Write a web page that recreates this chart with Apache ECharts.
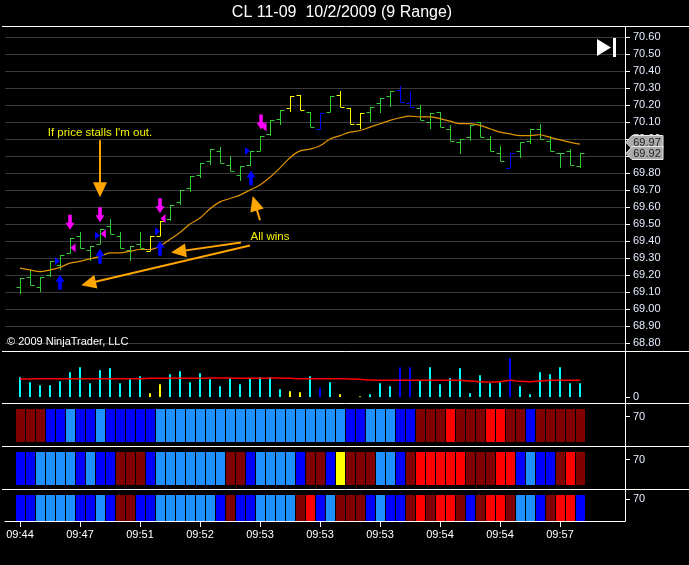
<!DOCTYPE html>
<html>
<head>
<meta charset="utf-8">
<title>CL 11-09 10/2/2009 (9 Range)</title>
<script src="https://cdn.jsdelivr.net/npm/echarts@6/dist/echarts.min.js"></script>
<style>
html, body { margin: 0; padding: 0; background: #000; }
#chart { width: 689px; height: 565px; }
</style>
</head>
<body>
<div id="chart"></div>
<script>
// 9-tick range bars
var opens  = [69.13,69.19,69.13,69.20,69.26,69.33,69.43,69.35,69.38,69.49,
              69.43,69.35,69.38,69.34,69.43,69.53,69.63,69.71,69.79,69.87,
              69.93,69.85,69.79,69.85,69.93,70.03,70.12,70.18,70.26,70.16,
              70.06,70.16,70.26,70.18,70.09,70.16,70.21,70.25,70.29,70.21,
              70.18,70.10,70.16,70.06,69.98,70.01,70.10,70.00,69.92,69.83,
              69.93,69.99,70.06,69.99,69.92,69.93,69.84];
var highs  = [69.18,69.23,69.19,69.28,69.32,69.42,69.45,69.37,69.47,69.53,
              69.45,69.37,69.45,69.43,69.52,69.61,69.70,69.78,69.86,69.94,
              69.95,69.90,69.84,69.93,70.02,70.11,70.17,70.25,70.26,70.16,
              70.15,70.25,70.28,70.18,70.15,70.19,70.24,70.28,70.31,70.28,
              70.20,70.15,70.16,70.08,70.00,70.08,70.10,70.02,69.96,69.92,
              69.98,70.06,70.09,70.02,69.92,69.94,69.92];
var lows   = [69.09,69.14,69.10,69.19,69.23,69.33,69.36,69.28,69.38,69.44,
              69.36,69.28,69.36,69.34,69.43,69.52,69.61,69.69,69.77,69.85,
              69.86,69.81,69.75,69.84,69.93,70.02,70.08,70.16,70.17,70.07,
              70.06,70.16,70.19,70.09,70.06,70.10,70.15,70.19,70.22,70.19,
              70.11,70.06,70.07,69.99,69.91,69.99,70.01,69.93,69.87,69.83,
              69.89,69.97,70.00,69.93,69.83,69.85,69.83];
var closes = [69.18,69.14,69.19,69.28,69.32,69.42,69.36,69.37,69.47,69.44,
              69.36,69.37,69.36,69.43,69.52,69.61,69.70,69.78,69.86,69.94,
              69.86,69.81,69.84,69.93,70.02,70.11,70.17,70.25,70.17,70.07,
              70.15,70.25,70.19,70.09,70.15,70.19,70.24,70.28,70.22,70.19,
              70.11,70.15,70.07,69.99,70.00,70.08,70.01,69.93,69.87,69.92,
              69.98,70.06,70.00,69.93,69.92,69.85,69.92];
// g = green, y = yellow, b = blue
var barKind = ('ggggggggggggg' + 'yy' + 'gggggggggggg' + 'yy' + 'g' + 'b' + 'g' + 'yyy' +
               'ggg' + 'bb' + 'ggggggggg' + 'b' + 'ggggggg').split('');
var priceMa = [69.24,69.23,69.22,69.23,69.245,69.27,69.28,69.295,69.31,69.33,
               69.33,69.34,69.35,69.35,69.37,69.41,69.45,69.50,69.535,69.59,
               69.63,69.65,69.67,69.70,69.73,69.775,69.83,69.89,69.93,69.94,
               69.96,70.00,70.02,70.04,70.05,70.07,70.09,70.11,70.125,70.135,
               70.13,70.13,70.12,70.105,70.09,70.09,70.08,70.06,70.04,70.03,
               70.02,70.02,70.025,70.01,69.995,69.98,69.97];

var volume = [59,44,35,35,47,74,89,41,80,86,
              41,53,62,11,38,68,77,44,71,53,
              32,56,38,56,59,59,23,17,14,62,
              26,44,8,0,2,8,41,32,89,89,
              50,89,38,56,86,11,65,41,44,116,
              32,8,74,68,89,41,41];
var volumeMa = [54,54,55,55,55,55,55,55,55,55,
                55,55,55,56,56,56,56,56,56,57,
                57,57,56,56,56,57,57,56,55,55,
                55,55,55,54,53,51,50,50,50,50,
                50,50,50,50,50,48,46,45,46,50,
                47,46,48,50,50,50,50];

// d = dark red, r = red, b = blue, c = light blue, y = yellow
var heatRow1 = ('dddbbcbbcbbbbb' + 'ccccccccccccccccccc' + 'bbcccbb' + 'dddrdddrrddbddddd').split('');
var heatRow2 = ('bbccccbcbbdddb' + 'ccccccc' + 'ddb' + 'cccc' + 'bdd' + 'by' + 'ddd' + 'ccb' + 'd' +
                'rrrrr' + 'ddd' + 'rr' + 'bcbb' + 'drd').split('');
var heatRow3 = ('bbccccbbcbddbb' + 'cccccc' + 'bdbb' + 'cccc' + 'drbc' + 'dddbcbb' + 'drdrrdbdrrd' + 'ccbdrrb').split('');

var timeLabels = ['09:44','09:47','09:51','09:52','09:53','09:53','09:53','09:54','09:54','09:57'];
var timeTicks  = [0,6,12,18,24,30,36,42,48,54];

// trade markers [bar, price]
var sellArrows = [[5,69.51],[8,69.555],[14,69.607],[24.1,70.10]];
var buyArrows  = [[4,69.157],[8,69.31],[14,69.357],[23.1,69.77]];
var entryMarks = [[3.75,69.283],[7.75,69.433],[13.75,69.457],[22.75,69.93]];
var exitMarks  = [[5.3,69.36],[8.33,69.442],[14.3,69.532],[24.4,70.07]];

// hand drawn notes: [fromBar, fromPrice, toBar, toPrice] (to = centre of the head)
var noteArrows = [[8,69.992,8,69.704],[22.1,69.391,15.9,69.339],[23,69.374,6.9,69.151],[24,69.522,23.5,69.619]];
var noteTexts  = [["If price stalls I'm out.",8,70.039],['All wins',25,69.427]];

var lastPrices = [69.97, 69.92];

var kindColor = { g: '#32CD32', y: '#FFFF00', b: '#0000FF' };
var volColor = { g: '#00FFFF', y: '#FFFF00', b: '#0000FF' };
var heatColor = { d: '#800000', r: '#FF0000', b: '#0000FF', c: '#1E90FF', y: '#FFFF00' };
var FONT = '"Liberation Sans", Arial, sans-serif';

var chart = echarts.init(document.getElementById('chart'));

function xAx(idx, show) {
	var ax = {
		type: 'value', gridIndex: idx, min: -1.5, max: 60.5,
		show: !!show, splitLine: { show: false }
	};
	if (show) {
		ax.axisLine = { onZero: false, lineStyle: { color: '#fff', width: 1 } };
		ax.axisTick = { customValues: timeTicks, length: 6, lineStyle: { color: '#fff' } };
		ax.axisLabel = {
			customValues: timeTicks, color: '#fff', fontSize: 11, fontFamily: FONT, margin: 8,
			formatter: function (v) { return timeLabels[timeTicks.indexOf(v)]; }
		};
	}
	return ax;
}

function sideAx(idx, min, max, marks) {
	return {
		type: 'value', gridIndex: idx, position: 'right', min: min, max: max,
		axisLine: { show: true, onZero: false, lineStyle: { color: '#fff' } },
		axisTick: { show: true, customValues: marks, length: 5, lineStyle: { color: '#fff' } },
		axisLabel: { customValues: marks, color: '#E6ECFF', fontSize: 11, fontFamily: FONT, margin: 8 },
		splitLine: { show: false }
	};
}

function heatSeries(idx, row, lo, hi) {
	return {
		type: 'custom', xAxisIndex: idx, yAxisIndex: idx, silent: true,
		data: row.map(function (c, i) { return [i]; }),
		encode: { x: 0 },
		renderItem: function (params, api) {
			var i = api.value(0);
			var a = api.coord([i - 0.4, hi]);
			var b = api.coord([i + 0.5, lo]);
			return {
				type: 'rect',
				shape: { x: Math.round(a[0]), y: Math.round(a[1]), width: Math.round(b[0] - a[0]), height: Math.round(b[1] - a[1]) },
				style: { fill: heatColor[row[params.dataIndex]] }
			};
		}
	};
}

var option = {
	backgroundColor: '#000',
	animation: false,
	grid: [
		{ left: 5, top: 37, width: 620, height: 306 },
		{ left: 5, top: 355, width: 620, height: 42 },
		{ left: 5, top: 404, width: 620, height: 42 },
		{ left: 5, top: 447, width: 620, height: 42 },
		{ left: 5, top: 490, width: 620, height: 31 }
	],
	xAxis: [xAx(0), xAx(1), xAx(2), xAx(3), xAx(4, true)],
	yAxis: [
		{
			type: 'value', gridIndex: 0, position: 'right', min: 68.8, max: 70.6, interval: 0.1,
			axisLine: { show: true, onZero: false, lineStyle: { color: '#fff' } },
			axisTick: { show: true, length: 5, lineStyle: { color: '#fff' } },
			axisLabel: { color: '#E6ECFF', fontSize: 11, fontFamily: FONT, margin: 8,
				formatter: function (v) { return v.toFixed(2); } },
			splitLine: { lineStyle: { color: '#3a3a3a', width: 1 } }
		},
		sideAx(1, 0, 126, [0]),
		sideAx(2, 0, 100, [70]),
		sideAx(3, 0, 100, [70]),
		sideAx(4, 0, 100, [70])
	],
	series: [
		{
			name: 'bars', type: 'custom', xAxisIndex: 0, yAxisIndex: 0, silent: true,
			data: opens.map(function (o, i) { return [i, o, highs[i], lows[i], closes[i]]; }),
			encode: { x: 0, y: [2, 3] },
			renderItem: function (params, api) {
				var i = api.value(0);
				var o = api.coord([i, api.value(1)]);
				var h = api.coord([i, api.value(2)]);
				var l = api.coord([i, api.value(3)]);
				var c = api.coord([i, api.value(4)]);
				var x = Math.round(o[0]) + 0.5;
				var st = { stroke: kindColor[barKind[params.dataIndex]], lineWidth: 1 };
				var oy = Math.round(o[1]) + 0.5, cy = Math.round(c[1]) + 0.5;
				return {
					type: 'group',
					children: [
						{ type: 'line', shape: { x1: x, y1: Math.round(h[1]), x2: x, y2: Math.round(l[1]) }, style: st },
						{ type: 'line', shape: { x1: x - 4, y1: oy, x2: x, y2: oy }, style: st },
						{ type: 'line', shape: { x1: x, y1: cy, x2: x + 4, y2: cy }, style: st }
					]
				};
			}
		},
		{
			name: 'ma', type: 'line', xAxisIndex: 0, yAxisIndex: 0, silent: true,
			data: priceMa.map(function (v, i) { return [i, v]; }),
			showSymbol: false, smooth: 0.3,
			lineStyle: { color: '#E09400', width: 1.2 }
		},
		{
			type: 'scatter', xAxisIndex: 0, yAxisIndex: 0, silent: true, z: 5,
			data: sellArrows,
			symbol: 'path://M3,0 L7,0 L7,8 L10,8 L5,15 L0,8 L3,8 Z', symbolSize: [9, 15],
			itemStyle: { color: '#FF00FF', opacity: 1 }
		},
		{
			type: 'scatter', xAxisIndex: 0, yAxisIndex: 0, silent: true, z: 5,
			data: buyArrows,
			symbol: 'path://M5,0 L10,7 L7,7 L7,15 L3,15 L3,7 L0,7 Z', symbolSize: [9, 15],
			itemStyle: { color: '#0000FF', opacity: 1 }
		},
		{
			type: 'scatter', xAxisIndex: 0, yAxisIndex: 0, silent: true, z: 5,
			data: entryMarks,
			symbol: 'path://M0,0 L5,4 L0,8 Z', symbolSize: [5, 8],
			itemStyle: { color: '#0000FF', opacity: 1 }
		},
		{
			type: 'scatter', xAxisIndex: 0, yAxisIndex: 0, silent: true, z: 5,
			data: exitMarks,
			symbol: 'path://M5,0 L0,4 L5,8 Z', symbolSize: [5, 9],
			itemStyle: { color: '#FF00FF', opacity: 1 }
		},
		{
			name: 'volume', type: 'bar', xAxisIndex: 1, yAxisIndex: 1, silent: true,
			barWidth: 2,
			data: volume.map(function (v, i) {
				return { value: [i, v], itemStyle: { color: volColor[barKind[i]] } };
			})
		},
		{
			name: 'volume ma', type: 'line', xAxisIndex: 1, yAxisIndex: 1, silent: true,
			data: volumeMa.map(function (v, i) { return [i, v]; }),
			showSymbol: false, smooth: 0.3,
			lineStyle: { color: '#FF0000', width: 1.5 }, z: 3
		},
		heatSeries(2, heatRow1, 10, 88),
		heatSeries(3, heatRow2, 10, 88),
		heatSeries(4, heatRow3, 0, 84)
	]
};

chart.setOption(option);

function px(i, p) { return chart.convertToPixel({ gridIndex: 0 }, [i, p]); }

var g = [];
// frame
g.push({ type: 'text', style: { text: 'CL 11-09  10/2/2009 (9 Range)', x: 342, y: 13, align: 'center', verticalAlign: 'middle', fill: '#fff', font: '16px ' + FONT } });
[26.5, 351.5, 403.5, 446.5, 489.5].forEach(function (y) {
	g.push({ type: 'line', silent: true, shape: { x1: 2, y1: y, x2: 689, y2: y }, style: { stroke: '#fff', lineWidth: 1 } });
});
g.push({ type: 'line', silent: true, shape: { x1: 625.5, y1: 27, x2: 625.5, y2: 521 }, style: { stroke: '#fff', lineWidth: 1 } });
g.push({ type: 'polygon', shape: { points: [[597, 39], [611, 47.5], [597, 56]] }, style: { fill: '#fff' } });
g.push({ type: 'rect', shape: { x: 613, y: 38, width: 3, height: 19 }, style: { fill: '#fff' } });
g.push({ type: 'text', style: { text: '\u00A9 2009 NinjaTrader, LLC', x: 7, y: 342, verticalAlign: 'middle', fill: '#fff', font: '11px ' + FONT } });

// hand drawn arrows, anchored on price/bar coordinates
noteArrows.forEach(function (a) {
	var p0 = px(a[0], a[1]), p1 = px(a[2], a[3]);
	var dx = p1[0] - p0[0], dy = p1[1] - p0[1];
	var len = Math.sqrt(dx * dx + dy * dy);
	var ux = dx / len, uy = dy / len, nx = -uy, ny = ux;
	g.push({ type: 'line', z: 40, shape: { x1: p0[0], y1: p0[1], x2: p1[0], y2: p1[1] },
		style: { stroke: '#FFA500', lineWidth: 2 } });
	g.push({ type: 'polygon', z: 41, shape: { points: [
		[p1[0] + ux * 8, p1[1] + uy * 8],
		[p1[0] - ux * 7 + nx * 7, p1[1] - uy * 7 + ny * 7],
		[p1[0] - ux * 7 - nx * 7, p1[1] - uy * 7 - ny * 7]
	] }, style: { fill: '#FFA500' } });
});

// notes
noteTexts.forEach(function (t) {
	var p = px(t[1], t[2]);
	g.push({ type: 'text', z: 50, style: { text: t[0], x: p[0], y: p[1], align: 'center', verticalAlign: 'middle', fill: '#F4F400', font: '11.5px ' + FONT } });
});

// price tags on the axis, pushed apart like the platform does
var tagY = lastPrices.map(function (v) { return px(0, v)[1]; });
if (tagY[1] - tagY[0] < 11) tagY[0] = tagY[1] - 11;
lastPrices.forEach(function (v, k) {
	var y = Math.round(tagY[k]) + 0.5;
	g.push({ type: 'polygon', z: 100 + k * 2, shape: { points: [[626, y], [632, y - 7], [663, y - 7], [663, y + 6], [632, y + 6]] },
		style: { fill: '#ABABAB', stroke: '#E8E8E8', lineWidth: 1 } });
	g.push({ type: 'text', z: 101 + k * 2, style: { text: v.toFixed(2), x: 647, y: y + 0.5, align: 'center', verticalAlign: 'middle', fill: '#202020', font: '11px ' + FONT } });
});

chart.setOption({ graphic: g });
</script>
</body>
</html>
